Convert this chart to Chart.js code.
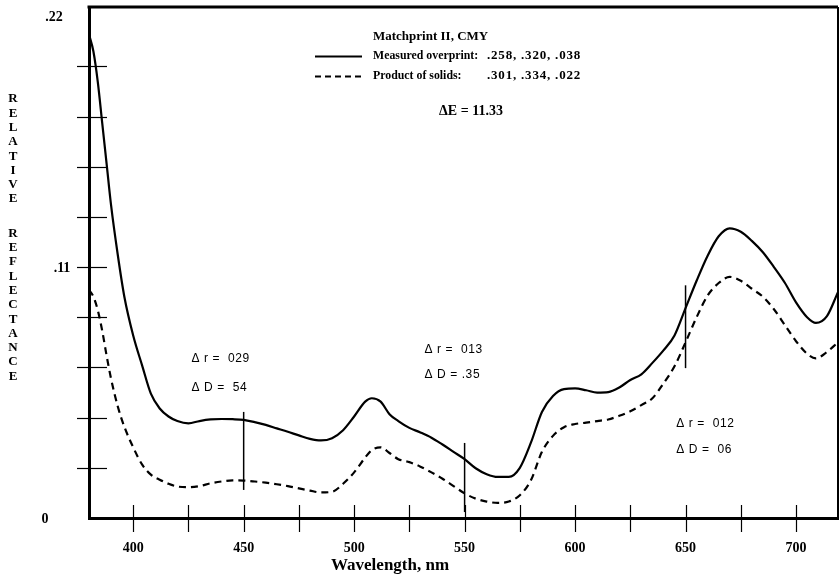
<!DOCTYPE html>
<html>
<head>
<meta charset="utf-8">
<script src="https://cdn.jsdelivr.net/npm/chart.js@4/dist/chart.umd.min.js"></script>
<style>
  html, body { margin: 0; padding: 0; background: #fff; }
  #wrap { width: 840px; height: 576px; position: relative; }
</style>
</head>
<body>
<div id="wrap"><canvas id="chart" width="840" height="576"></canvas></div>
<script>
// Wavelength grid (nm) shared by both reflectance curves
const wavelengths = [380, 382, 384, 386, 388, 390, 393, 396, 400, 404, 408, 412, 416, 420,
  425, 430, 435, 440, 445, 450, 455, 460, 465, 470, 475, 480, 485, 490, 495, 500, 505, 508,
  512, 516, 520, 525, 530, 535, 540, 545, 550, 555, 560, 565, 570, 575, 580, 585, 590, 595,
  600, 605, 610, 615, 620, 625, 630, 635, 640, 645, 650, 655, 660, 665, 670, 675, 680, 685,
  690, 695, 700, 705, 709, 714, 719];

// Measured overprint (solid curve)
const measuredOverprint = [0.212, 0.2045, 0.191, 0.173, 0.155, 0.137, 0.1155, 0.097, 0.080, 0.067,
  0.0545, 0.048, 0.0445, 0.0425, 0.0415, 0.0425, 0.0432, 0.0434, 0.0433, 0.0430, 0.0420, 0.0408,
  0.0393, 0.0378, 0.0362, 0.0347, 0.0340, 0.0350, 0.0385, 0.0445, 0.0510, 0.0525, 0.0510, 0.0455,
  0.0425, 0.0395, 0.0375, 0.0352, 0.0322, 0.0290, 0.0258, 0.0218, 0.0192, 0.0180, 0.0180, 0.0220,
  0.0330, 0.0465, 0.0535, 0.0565, 0.0568, 0.0560, 0.0550, 0.0552, 0.0572, 0.0605, 0.0630, 0.0680,
  0.0735, 0.0800, 0.0920, 0.1040, 0.1150, 0.1235, 0.1270, 0.1255, 0.1215, 0.1165, 0.1100, 0.1030,
  0.0945, 0.0880, 0.0855, 0.0885, 0.0990];

// Product of solids (dashed curve)
const productOfSolids = [0.100, 0.097, 0.091, 0.082, 0.071, 0.061, 0.049, 0.040, 0.031, 0.0235,
  0.019, 0.0168, 0.0150, 0.0138, 0.0135, 0.0140, 0.0152, 0.0160, 0.0165, 0.0164, 0.0160, 0.0155,
  0.0148, 0.0140, 0.0130, 0.0120, 0.0112, 0.0115, 0.0150, 0.0200, 0.0265, 0.0298, 0.0310, 0.0285,
  0.0258, 0.0245, 0.0225, 0.0200, 0.0172, 0.0140, 0.0108, 0.0085, 0.0072, 0.0066, 0.0072, 0.0100,
  0.0165, 0.0290, 0.0360, 0.0398, 0.0412, 0.0418, 0.0425, 0.0432, 0.0448, 0.0468, 0.0495, 0.0525,
  0.0590, 0.0665, 0.0770, 0.0880, 0.0975, 0.1030, 0.1057, 0.1040, 0.1005, 0.0970, 0.0915, 0.0845,
  0.0775, 0.0720, 0.0700, 0.0728, 0.0770];

// Vertical difference markers
const markerWavelengths = [450, 550, 650];
const markerLow = [0.0123, 0.0026, 0.0657];
const markerHigh = [0.0465, 0.0329, 0.1020];

// Difference labels per marker
const deltaRLabels = ['\u0394 r =  029', '\u0394 r =  013', '\u0394 r =  012'];
const deltaDLabels = ['\u0394 D =  54', '\u0394 D = .35', '\u0394 D =  06'];

// Axis ticks
const xTickValues = [400, 425, 450, 475, 500, 525, 550, 575, 600, 625, 650, 675, 700];
const xLabelValues = [400, 450, 500, 550, 600, 650, 700];
const yTickValues = [0, 0.022, 0.044, 0.066, 0.088, 0.11, 0.132, 0.154, 0.176, 0.198, 0.22];
const yLabelValues = [0, 0.11, 0.22];
const yLabelTexts = ['0', '.11', '.22'];

// Legend text
const legendTitle = 'Matchprint II, CMY';
const seriesNames = ['Measured overprint:', 'Product of solids:'];
const seriesValues = ['.258, .320, .038', '.301, .334, .022'];
const deltaE = '\u0394E = 11.33';
const xTitle = 'Wavelength, nm';
const yTitleWords = ['RELATIVE', 'REFLECTANCE'];

const SERIF = '"Liberation Serif", "Times New Roman", serif';
const SANS = '"Liberation Sans", Arial, sans-serif';

const toPoints = (xs, ys) => xs.map((x, i) => ({ x: x, y: ys[i] }));

const datasets = [
  {
    label: seriesNames[0],
    data: toPoints(wavelengths, measuredOverprint),
    borderColor: '#000', borderWidth: 2.2, pointRadius: 0,
    cubicInterpolationMode: 'monotone', fill: false
  },
  {
    label: seriesNames[1],
    data: toPoints(wavelengths, productOfSolids),
    borderColor: '#000', borderWidth: 2.2, borderDash: [7, 5], pointRadius: 0,
    cubicInterpolationMode: 'monotone', fill: false
  }
];
markerWavelengths.forEach((w, i) => {
  datasets.push({
    label: 'marker' + i,
    data: [{ x: w, y: markerLow[i] }, { x: w, y: markerHigh[i] }],
    borderColor: '#000', borderWidth: 1.5, pointRadius: 0, tension: 0, fill: false
  });
});

const decorations = {
  id: 'decorations',
  afterDraw(chart) {
    const ctx = chart.ctx;
    const a = chart.chartArea;
    const xs = chart.scales.x, ys = chart.scales.y;
    ctx.save();
    ctx.strokeStyle = '#000';
    ctx.fillStyle = '#000';

    // frame top and right
    ctx.lineWidth = 3;
    ctx.beginPath();
    ctx.moveTo(a.left - 1.5, a.top);
    ctx.lineTo(a.right, a.top);
    ctx.stroke();
    ctx.lineWidth = 2;
    ctx.beginPath();
    ctx.moveTo(a.right, a.top);
    ctx.lineTo(a.right, a.bottom);
    ctx.stroke();

    // tick marks crossing the axes
    ctx.lineWidth = 1.2;
    yTickValues.forEach(v => {
      if (v === 0 || v === 0.22) return;
      const y = Math.round(ys.getPixelForValue(v)) + 0.5;
      ctx.beginPath();
      ctx.moveTo(a.left - 12, y);
      ctx.lineTo(a.left + 18, y);
      ctx.stroke();
    });
    xTickValues.forEach(v => {
      const x = Math.round(xs.getPixelForValue(v)) + 0.5;
      ctx.beginPath();
      ctx.moveTo(x, a.bottom - 13);
      ctx.lineTo(x, a.bottom + 14);
      ctx.stroke();
    });

    // y tick labels
    ctx.font = 'bold 14px ' + SERIF;
    ctx.textAlign = 'center';
    ctx.textBaseline = 'middle';
    const yLabelCenters = [45, 62, 54];
    yLabelValues.forEach((v, i) => {
      ctx.fillText(yLabelTexts[i], yLabelCenters[i], ys.getPixelForValue(v) + 1);
    });

    // stacked vertical axis title
    ctx.font = 'bold 13px ' + SERIF;
    let ty = 99;
    yTitleWords.forEach(word => {
      for (const ch of word) {
        ctx.fillText(ch, 13, ty);
        ty += 14.3;
      }
      ty += 20;
    });

    // x axis title
    ctx.font = 'bold 17px ' + SERIF;
    ctx.textAlign = 'left';
    ctx.fillText(xTitle, 331, 566);

    // legend block
    ctx.font = 'bold 13px ' + SERIF;
    ctx.fillText(legendTitle, 373, 37);
    seriesNames.forEach((name, i) => {
      const w = ctx.measureText(name).width * 0.91;
      ctx.fillText(name, 373, 56 + i * 20, w);
    });
    ctx.letterSpacing = '0.8px';
    ctx.fillText(seriesValues[0], 487, 56);
    ctx.fillText(seriesValues[1], 487, 76);
    ctx.letterSpacing = '0px';
    ctx.lineWidth = 2;
    ctx.beginPath();
    ctx.moveTo(315, 56.5);
    ctx.lineTo(362, 56.5);
    ctx.stroke();
    ctx.setLineDash([6, 4]);
    ctx.beginPath();
    ctx.moveTo(315, 76.5);
    ctx.lineTo(362, 76.5);
    ctx.stroke();
    ctx.setLineDash([]);
    ctx.font = 'bold 14px ' + SERIF;
    ctx.textAlign = 'center';
    ctx.fillText(deltaE, 471, 111);

    // difference labels, anchored in data space
    const anchors = [[426.4, 0.0697], [531.8, 0.0736], [645.8, 0.0412]];
    const gaps = [29, 25, 26];
    ctx.font = '12px ' + SANS;
    ctx.letterSpacing = '0.6px';
    ctx.textAlign = 'left';
    anchors.forEach((p, i) => {
      const x = xs.getPixelForValue(p[0]);
      const y = ys.getPixelForValue(p[1]);
      ctx.fillText(deltaRLabels[i], x, y);
      ctx.fillText(deltaDLabels[i], x, y + gaps[i]);
    });
    ctx.restore();
  }
};

new Chart(document.getElementById('chart'), {
  type: 'line',
  data: { datasets: datasets },
  options: {
    responsive: false,
    animation: false,
    layout: { padding: { left: 0, top: 7, right: 2, bottom: 0 } },
    plugins: { legend: { display: false }, tooltip: { enabled: false }, title: { display: false } },
    scales: {
      x: {
        type: 'linear',
        min: 380, max: 719,
        grid: { display: false, drawTicks: false },
        border: { display: true, color: '#000', width: 3 },
        afterBuildTicks: s => { s.ticks = xTickValues.map(v => ({ value: v })); },
        afterFit: s => { s.height = 58; s.paddingLeft = 0; s.paddingRight = 0; },
        ticks: {
          autoSkip: false, maxRotation: 0, padding: 22, color: '#000',
          font: { family: SERIF, size: 14, weight: 'bold' },
          callback: v => (xLabelValues.includes(v) ? String(v) : '')
        }
      },
      y: {
        type: 'linear',
        min: 0, max: 0.224,
        grid: { display: false, drawTicks: false },
        border: { display: true, color: '#000', width: 3 },
        afterBuildTicks: s => { s.ticks = yTickValues.map(v => ({ value: v })); },
        afterFit: s => { s.width = 89; s.paddingTop = 0; s.paddingBottom = 0; },
        ticks: { display: false }
      }
    }
  },
  plugins: [decorations]
});
</script>
</body>
</html>
